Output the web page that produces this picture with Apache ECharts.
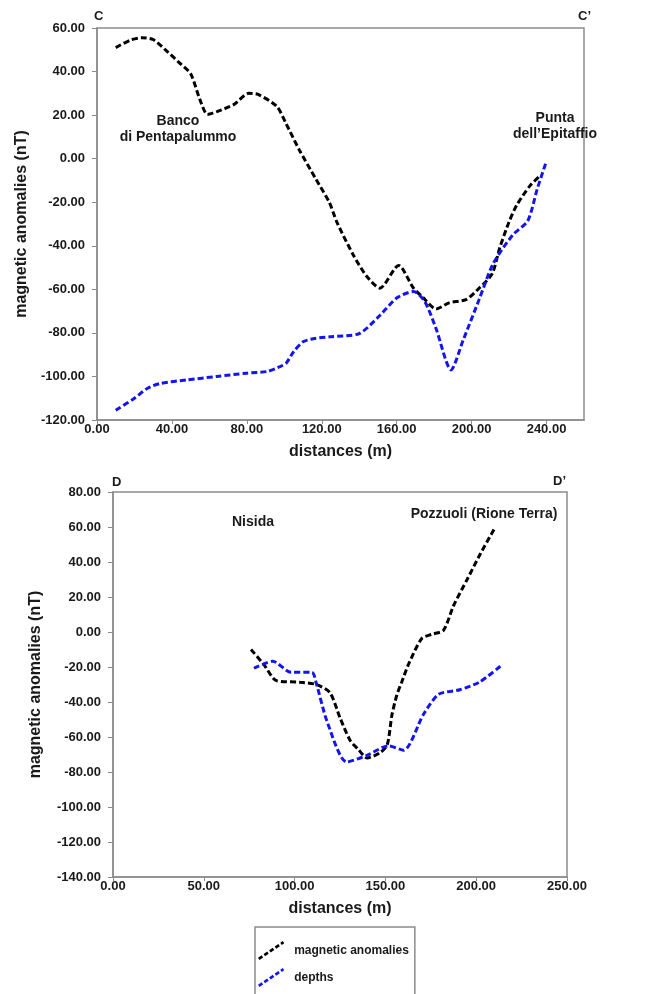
<!DOCTYPE html>
<html>
<head>
<meta charset="utf-8">
<script src="https://cdn.jsdelivr.net/npm/echarts@6/dist/echarts.min.js"></script>
<style>
  html, body { margin: 0; padding: 0; background: #fff; }
  #chart { width: 648px; height: 994px; }
</style>
</head>
<body>
<div id="chart"></div>
<script>
const seriesNames = ['magnetic anomalies', 'depths'];

// profile C - C'  [distance (m), value]
const cMagnetic = [
  [10, 51], [18, 54.5], [24, 55.5], [30, 54.7], [37, 49.6], [44, 44], [50, 39],
  [55, 27], [59, 20.3], [64, 21.6], [73, 24.8], [81, 30], [86, 29.5], [96, 24],
  [101, 16], [108, 4], [117, -9.6], [124, -20], [128, -29], [137, -44.5],
  [144, -54], [151, -59.5], [161, -49], [169, -59.5], [174, -63.7], [181, -69],
  [188, -66.2], [197, -64.7], [204, -59.5], [211, -52.8], [215, -41], [220, -29],
  [224, -21.5], [231, -12.6], [237, -7.5]
];
const cDepths = [
  [10, -115.5], [20, -110], [27, -105.4], [34, -103.2], [48, -101.6], [64, -100],
  [80, -98.5], [91, -97.7], [98, -95.4], [101, -93.9], [105, -88.6], [110, -84.1],
  [116, -82.6], [124, -81.8], [140, -80.3], [151, -72], [160, -64], [169, -61],
  [175, -65.6], [181, -78], [189, -97], [195.5, -83.3], [204, -64.7],
  [211.5, -48.2], [222, -35], [230, -28.5], [235, -14], [240, -1]
];

// profile D - D'
const dMagnetic = [
  [76, -10], [83, -18.5], [90, -27.8], [103, -28.7], [112, -30], [119.5, -34.7],
  [125, -49], [130.6, -62], [135, -67], [140, -72], [147, -69], [151, -64.5],
  [153.6, -47.4], [156.3, -36], [159, -28.6], [162.7, -18.5], [170, -3.7],
  [175.6, -1.3], [182, 1], [187.5, 15], [195, 30], [202.3, 44.7], [210, 59]
];
const dDepths = [
  [77.6, -20.7], [88, -16.7], [98, -23], [109.5, -23], [112, -29.6], [118, -51.5],
  [128.7, -74.3], [139.8, -70.5], [151.7, -65.1], [160, -67.6], [171, -47],
  [179.3, -35.6], [191, -33], [202, -28.5], [214, -19]
];

const xRangeC = [0, 260, 40];
const yRangeC = [-120, 60, 20];
const xRangeD = [0, 250, 50];
const yRangeD = [-140, 80, 20];

const FONT = 'Liberation Sans';
const INK = '#1a1a1a';
const FRAME = '#8c8c8c';
const BLUE = '#1414f0';

function dashIcon(w, h, dash, gap, thick) {
  const len = Math.hypot(w, h);
  const ux = w / len, uy = -h / len;
  const nx = -uy * thick / 2, ny = ux * thick / 2;
  let d = '';
  for (let s = 0; s < len; s += dash + gap) {
    const e = Math.min(s + dash, len);
    const x0 = ux * s, y0 = h + uy * s, x1 = ux * e, y1 = h + uy * e;
    d += 'M' + (x0 + nx) + ',' + (y0 + ny) + 'L' + (x1 + nx) + ',' + (y1 + ny) +
         'L' + (x1 - nx) + ',' + (y1 - ny) + 'L' + (x0 - nx) + ',' + (y0 - ny) + 'Z';
  }
  return 'path://' + d;
}

const labelStyle = {
  color: INK, fontFamily: FONT, fontWeight: 'bold', fontSize: 13,
  formatter: v => v.toFixed(2)
};
const nameStyle = { color: INK, fontFamily: FONT, fontWeight: 'bold', fontSize: 16 };

function xAxis(idx, range) {
  return {
    type: 'value', gridIndex: idx, min: range[0], max: range[1], interval: range[2],
    name: 'distances (m)', nameLocation: 'middle', nameGap: 24, nameTextStyle: nameStyle,
    axisLine: { onZero: false, lineStyle: { color: FRAME, width: 1.5 } },
    axisTick: { length: 4, lineStyle: { color: FRAME } },
    axisLabel: Object.assign({ margin: 3 }, labelStyle),
    splitLine: { show: false }
  };
}
function yAxis(idx, range, gap) {
  return {
    type: 'value', gridIndex: idx, min: range[0], max: range[1], interval: range[2],
    name: 'magnetic anomalies (nT)', nameLocation: 'middle', nameGap: gap,
    nameTextStyle: nameStyle,
    axisLine: { onZero: false, lineStyle: { color: FRAME, width: 1.5 } },
    axisTick: { length: 5, lineStyle: { color: FRAME } },
    axisLabel: Object.assign({ margin: 12 }, labelStyle),
    splitLine: { show: false }
  };
}
function line(name, data, color, idx) {
  return {
    type: 'line', name: name, data: data, xAxisIndex: idx, yAxisIndex: idx,
    showSymbol: false, smooth: 0.25, silent: true,
    itemStyle: { color: color },
    lineStyle: { color: color, width: 3, type: [6, 3] }
  };
}
function note(x, y, text) {
  return {
    type: 'text', x: x, y: y,
    style: {
      text: text, fill: INK, font: 'bold 14px "' + FONT + '"',
      align: 'center', verticalAlign: 'middle', lineHeight: 16
    }
  };
}
function corner(x, y, text) {
  return {
    type: 'text', x: x, y: y,
    style: { text: text, fill: INK, font: 'bold 13px "' + FONT + '"', verticalAlign: 'middle' }
  };
}

const chart = echarts.init(document.getElementById('chart'));
chart.setOption({
  animation: false,
  backgroundColor: '#fff',
  grid: [
    { left: 97, top: 28, right: 64, height: 392, show: true, borderColor: FRAME,
      borderWidth: 1.5, outerBoundsMode: 'none' },
    { left: 113, top: 492, right: 81, height: 385, show: true, borderColor: FRAME,
      borderWidth: 1.5, outerBoundsMode: 'none' }
  ],
  xAxis: [xAxis(0, xRangeC), xAxis(1, xRangeD)],
  yAxis: [yAxis(0, yRangeC, 67), yAxis(1, yRangeD, 69)],
  legend: {
    orient: 'vertical', left: 255, top: 927, width: 163, height: 90,
    borderColor: FRAME, borderWidth: 1.5, padding: [14, 6, 14, 3],
    itemGap: 8, itemWidth: 28, itemHeight: 19,
    icon: dashIcon(28, 19, 5, 2.6, 3),
    itemStyle: { borderWidth: 0 },
    textStyle: { color: INK, fontFamily: FONT, fontWeight: 'bold', fontSize: 12,
      padding: [0, 0, 0, 4] },
    data: seriesNames
  },
  series: [
    line(seriesNames[0], cMagnetic, '#000', 0),
    line(seriesNames[1], cDepths, BLUE, 0),
    line(seriesNames[0], dMagnetic, '#000', 1),
    line(seriesNames[1], dDepths, BLUE, 1)
  ],
  graphic: [
    corner(94, 16, 'C'),
    corner(578, 16, 'C’'),
    corner(112, 482, 'D'),
    corner(553, 481, 'D’'),
    note(178, 129, 'Banco\ndi Pentapalummo'),
    note(555, 126, 'Punta\ndell’Epitaffio'),
    note(253, 522, 'Nisida'),
    note(484, 514, 'Pozzuoli (Rione Terra)')
  ]
});
</script>
</body>
</html>
